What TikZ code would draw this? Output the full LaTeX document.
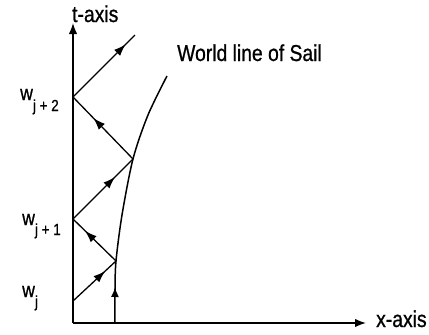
\documentclass[tikz,border=0pt]{standalone}
\usepackage{fontspec}
\setmainfont[FakeStretch=0.84,FakeBold=0.8]{Liberation Sans}
\usetikzlibrary{arrows.meta,decorations.markings}
\begin{document}
\begin{tikzpicture}[x=1pt,y=-1pt,
  axis/.style={line width=1.6pt,-{Latex[length=11pt,width=8.5pt]}},
  photon/.style={line width=1.3pt, postaction={decorate},
    decoration={markings, mark=at position #1 with {\arrow{Latex[length=12pt,width=8.5pt]}}}},
  sail/.style={line width=1.5pt, postaction={decorate},
    decoration={markings, mark=at position 36pt with {\arrow{Latex[length=10pt,width=8pt]}}}},
  lbl/.style={inner sep=0pt, font=\fontsize{23}{23}\selectfont},
  wlbl/.style={inner sep=0pt, anchor=base west, font=\fontsize{21}{21}\selectfont}]
\useasboundingbox (0,0) rectangle (429,335);
% axes
\coordinate (O) at (73,323);
\coordinate (ttip) at (73,23);
\coordinate (xtip) at (366,323);
\draw[axis] (O) -- (ttip);
\draw[axis] (O) -- (xtip);
% points
\coordinate (wj) at (73,301);
\coordinate (wj1) at (73,219);
\coordinate (wj2) at (73,97);
\coordinate (b1) at (116,261);
\coordinate (b2) at (133,159);
\coordinate (pend) at (135,35);
% world line of sail
\draw[sail] plot[smooth] coordinates {(115,323) (115,290) (b1) (122,215) (b2) (148,115) (167,76)};
% light signals
\draw[photon=0.75] (wj) -- (b1);
\draw[photon=0.72] (b1) -- (wj1);
\draw[photon=0.7] (wj1) -- (b2);
\draw[photon=0.66] (b2) -- (wj2);
\draw[photon=0.85] (wj2) -- (pend);
% labels
\node[lbl, anchor=base west] (tlab) at (72,22) {t-axis};
\node[lbl, anchor=base west] (xlab) at (376,327) {x-axis};
\node[lbl, anchor=base west] (slab) at (177,61) {World line of Sail};
\node[wlbl] (lwj) at (22,297) {w\raisebox{-10pt}{\fontsize{16}{16}\selectfont j}};
\node[wlbl] (lwj1) at (22,225) {w\raisebox{-10pt}{\fontsize{16}{16}\selectfont j + 1}};
\node[wlbl] (lwj2) at (20,100) {w\raisebox{-11pt}{\fontsize{16}{16}\selectfont j + 2}};
\end{tikzpicture}
\end{document}
